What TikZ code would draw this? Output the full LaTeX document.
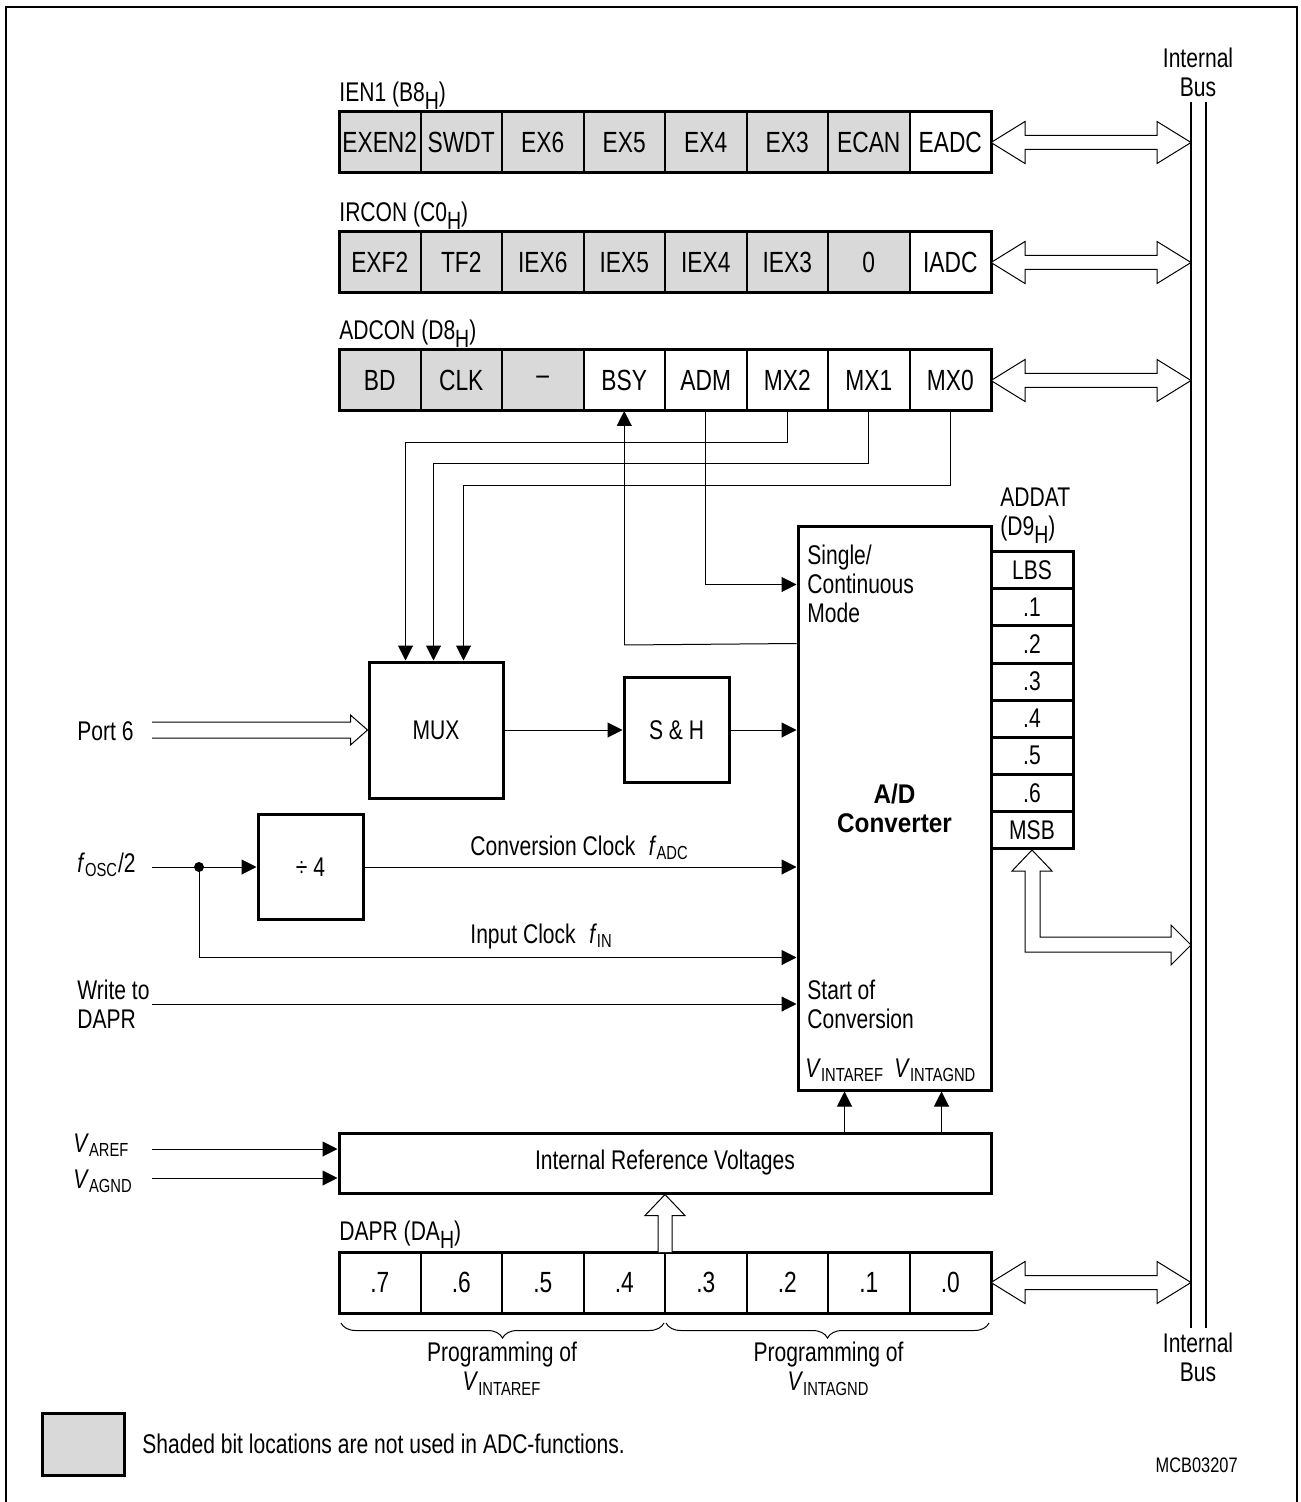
\documentclass[tikz,border=0pt]{standalone}
\usepackage{fontspec}
\setmainfont{Liberation Sans}[FakeStretch=0.78]
\newfontfamily\adcfont{Liberation Sans}[FakeStretch=0.9]
\usetikzlibrary{arrows.meta,calc,decorations.pathreplacing}
\colorlet{shade}{black!15}
\newcommand{\subH}{\raisebox{-4pt}{\fontsize{12.5}{12.5}\selectfont H}}
\newcommand{\busarrow}[2]{%
  \draw[hollow] (#1) -- ++(17pt,10.5pt) -- ++(0,-7pt) -- ($(#2)+(-17pt,3.5pt)$) -- ++(0,7pt) -- (#2)
    -- ++(-17pt,-10.5pt) -- ++(0,7pt) -- ($(#1)+(17pt,-3.5pt)$) -- ++(0,-7pt) -- cycle;}
\tikzset{
  sig/.style={line width=0.5pt},
  arr/.style={-{Triangle[length=7.5pt,width=7.5pt]}},
  cell/.style={draw,line width=1pt,outer sep=0pt,inner sep=0pt,minimum width=40.75pt,minimum height=30.5pt,font=\fontsize{14.6}{15}\selectfont},
  regframe/.style={draw,line width=1.5pt},
  datcell/.style={draw,line width=1.5pt,inner sep=0pt,minimum width=41pt,minimum height=18.55pt},
  block/.style={draw,line width=1.5pt,inner sep=0pt},
  hollow/.style={draw,fill=white,line width=0.5pt,line join=miter},
  txt/.style={inner sep=0pt},
  busline/.style={line width=0.6pt},
  brc/.style={decorate,decoration={brace,mirror,amplitude=7.5pt},line width=0.5pt}
}
\begin{document}
\begin{tikzpicture}[x=0.5pt,y=-0.5pt,font=\fontsize{13.5}{14.5}\selectfont]
\useasboundingbox (0,0) rectangle (1300,1502);
\draw[line width=1pt] (6,1502) -- (6,7) -- (1297,7) -- (1297,1502);
\coordinate (bus) at (1191,102);
\coordinate (busend) at (1191,1328);
\draw[busline] (bus) -- (busend);
\draw[busline] ([xshift=7.5pt]bus) -- ([xshift=7.5pt]busend);
\node[txt,align=center,anchor=north] (bustop) at (1198,48) {Internal\\Bus};
\node[txt,align=center,anchor=north] (busbot) at (1198,1333) {Internal\\Bus};

\foreach \t/\f [count=\i] in {EXEN2/shade,SWDT/shade,EX6/shade,EX5/shade,EX4/shade,EX3/shade,ECAN/shade,EADC/white}
  \node[cell,fill=\f] (ien\i) at ({339+81.5*(\i-0.5)},142.5) {\t};
\draw[regframe] (ien1.north west) rectangle (ien8.south east);
\node[txt,anchor=base west] (ienlbl) at (339,102) {IEN1 (B8\subH)};
\busarrow{ien8.east}{ien8.east -| bus}

\foreach \t/\f [count=\i] in {EXF2/shade,TF2/shade,IEX6/shade,IEX5/shade,IEX4/shade,IEX3/shade,0/shade,IADC/white}
  \node[cell,fill=\f] (irc\i) at ({339+81.5*(\i-0.5)},262.5) {\t};
\draw[regframe] (irc1.north west) rectangle (irc8.south east);
\node[txt,anchor=base west] (irclbl) at (339,222) {IRCON (C0\subH)};
\busarrow{irc8.east}{irc8.east -| bus}

\foreach \t/\f [count=\i] in {BD/shade,CLK/shade,–/shade,BSY/white,ADM/white,MX2/white,MX1/white,MX0/white}
  \node[cell,fill=\f] (adc\i) at ({339+81.5*(\i-0.5)},380.5) {\t};
\draw[regframe] (adc1.north west) rectangle (adc8.south east);
\node[txt,anchor=base west] (adclbl) at (339,340) {ADCON (D8\subH)};
\busarrow{adc8.east}{adc8.east -| bus}

\foreach \t [count=\i] in {.7,.6,.5,.4,.3,.2,.1,.0}
  \node[cell,fill=white] (dapr\i) at ({339+81.5*(\i-0.5)},1282.5) {\t};
\draw[regframe] (dapr1.north west) rectangle (dapr8.south east);
\node[txt,anchor=base west] (daprlbl) at (339,1240) {DAPR (DA\subH)};
\busarrow{dapr8.east}{dapr8.east -| bus}

\node[block,minimum width=96.5pt,minimum height=282pt,align=center,font=\adcfont\bfseries\fontsize{13.5}{14.5}\selectfont] (ad) at (894.5,808) {A/D\\Converter};
\node[txt,align=left,anchor=north west] (mode) at (807,545) {Single/\\Continuous\\Mode};
\node[txt,align=left,anchor=north west] (start) at (807,980) {Start of\\Conversion};
\node[txt,anchor=base west] (intref) at (805,1077) {\textit{V}\textsubscript{INTAREF}};
\node[txt,anchor=base west] (intgnd) at (894,1077) {\textit{V}\textsubscript{INTAGND}};

\node[txt,align=left,anchor=north west] (datlbl) at (1000,488) {ADDAT\\(D9\subH)};
\foreach \t [count=\i] in {LBS,.1,.2,.3,.4,.5,.6,MSB}
  \node[datcell] (dat\i) at (1032,{551.7+37.1*(\i-0.5)}) {\t};
\draw[hollow] (dat8.south) -- ++(10pt,-10.5pt) -- ++(-6pt,0) -- ++(0,-33pt) -- ++(65.5pt,0) -- ++(0,6pt)
  -- ++(10pt,-10pt) -- ++(-10pt,-10pt) -- ++(0,6.5pt) -- ++(-73pt,0) -- ++(0,40.5pt) -- ++(-6.5pt,0) -- cycle;

\node[block,minimum width=67pt,minimum height=68pt] (mux) at (436,730) {MUX};
\node[block,minimum width=52.5pt,minimum height=52.5pt] (sh) at (676.5,730) {S \& H};
\node[block,minimum width=52.5pt,minimum height=52.5pt] (div) at (310.5,867) {÷ 4};
\node[block,minimum width=326pt,minimum height=30pt] (irv) at (665,1163) {Internal Reference Voltages};

\draw[sig,arr] (adc4 |- 0,645) -- (adc4.south);
\draw[sig] ([yshift=-59.5pt]ad.north west) -- (adc4 |- 0,645);
\draw[sig,arr] (adc5.south) |- ([yshift=-30pt]ad.north west);
\draw[sig,arr] (adc6.south) -- ++(0,-15.5pt) -| ([xshift=19pt]mux.north west);
\draw[sig,arr] (adc7.south) -- ++(0,-26pt) -| ([xshift=33pt]mux.north west);
\draw[sig,arr] (adc8.south) -- ++(0,-37pt) -| ([xshift=48pt]mux.north west);

\node[txt,anchor=base west] (port) at (77,740) {Port 6};
\coordinate (portin) at (152,730);
\draw[sig,line join=miter] ($(portin)+(0,4pt)$) -- ([yshift=4pt,xshift=-8.5pt]mux.west) -- ++(0,3.5pt) -- (mux.west)
  -- ++(-8.5pt,-7.5pt) -- ++(0,3.5pt) -- ($(portin)+(0,-4pt)$);
\draw[sig,arr] (mux.east) -- (sh.west);
\draw[sig,arr] (sh.east) -- (sh.east -| ad.west);

\node[txt,anchor=base west] (osc) at (77,872) {\textit{f}\textsubscript{OSC}/2};
\coordinate (oscin) at (152,867);
\coordinate (oscdot) at (199,867);
\fill (oscdot) circle (2.5pt);
\draw[sig] (oscin) -- (oscdot);
\draw[sig,arr] (oscdot) -- (div.west);
\draw[sig,arr] (div.east) -- (div.east -| ad.west);
\node[txt,anchor=base west] (convclk) at (470,855) {Conversion Clock\enspace\textit{f}\textsubscript{ADC}};
\draw[sig,arr] (oscdot) |- ([yshift=67pt]ad.south west);
\node[txt,anchor=base west] (inclk) at (470,943) {Input Clock\enspace\textit{f}\textsubscript{IN}};

\node[txt,align=left,anchor=north west] (wr) at (77,980) {Write to\\DAPR};
\coordinate (wrin) at (152,1004);
\draw[sig,arr] (wrin) -- (wrin -| ad.west);

\node[txt,anchor=base west] (aref) at (73,1152) {\textit{V}\textsubscript{AREF}};
\node[txt,anchor=base west] (agnd) at (73,1188) {\textit{V}\textsubscript{AGND}};
\coordinate (arefin) at (152,1149);
\coordinate (agndin) at (152,1178);
\draw[sig,arr] (arefin) -- (arefin -| irv.west);
\draw[sig,arr] (agndin) -- (agndin -| irv.west);
\draw[sig,arr] ([xshift=24pt]ad.south west |- irv.north) -- ([xshift=24pt]ad.south west);
\draw[sig,arr] ([xshift=72.5pt]ad.south west |- irv.north) -- ([xshift=72.5pt]ad.south west);
\draw[hollow] ($(dapr4.north east)+(-3.5pt,0)$) |- ($(irv.south)+(-10pt,-10.5pt)$) -- (irv.south)
  -- ++(10pt,-10.5pt) -| ($(dapr4.north east)+(3.5pt,0)$);

\draw[brc] ([xshift=1pt,yshift=-5pt]dapr1.south west) -- ([xshift=-0.5pt,yshift=-5pt]dapr4.south east);
\draw[brc] ([xshift=0.5pt,yshift=-5pt]dapr5.south west) -- ([xshift=-1pt,yshift=-5pt]dapr8.south east);
\node[txt,align=center,anchor=north] (progref) at (502,1342) {Programming of\\\textit{V}\textsubscript{INTAREF}};
\node[txt,align=center,anchor=north] (proggnd) at (828.5,1342) {Programming of\\\textit{V}\textsubscript{INTAGND}};

\node[block,fill=shade,minimum width=41pt,minimum height=31pt] (legend) at (83,1444) {};
\node[txt,anchor=base west] (legtxt) at (142,1453) {Shaded bit locations are not used in ADC-functions.};
\node[txt,anchor=base east,font=\fontsize{10.5}{11}\selectfont] (figno) at (1238,1472) {MCB03207};
\end{tikzpicture}
\end{document}
